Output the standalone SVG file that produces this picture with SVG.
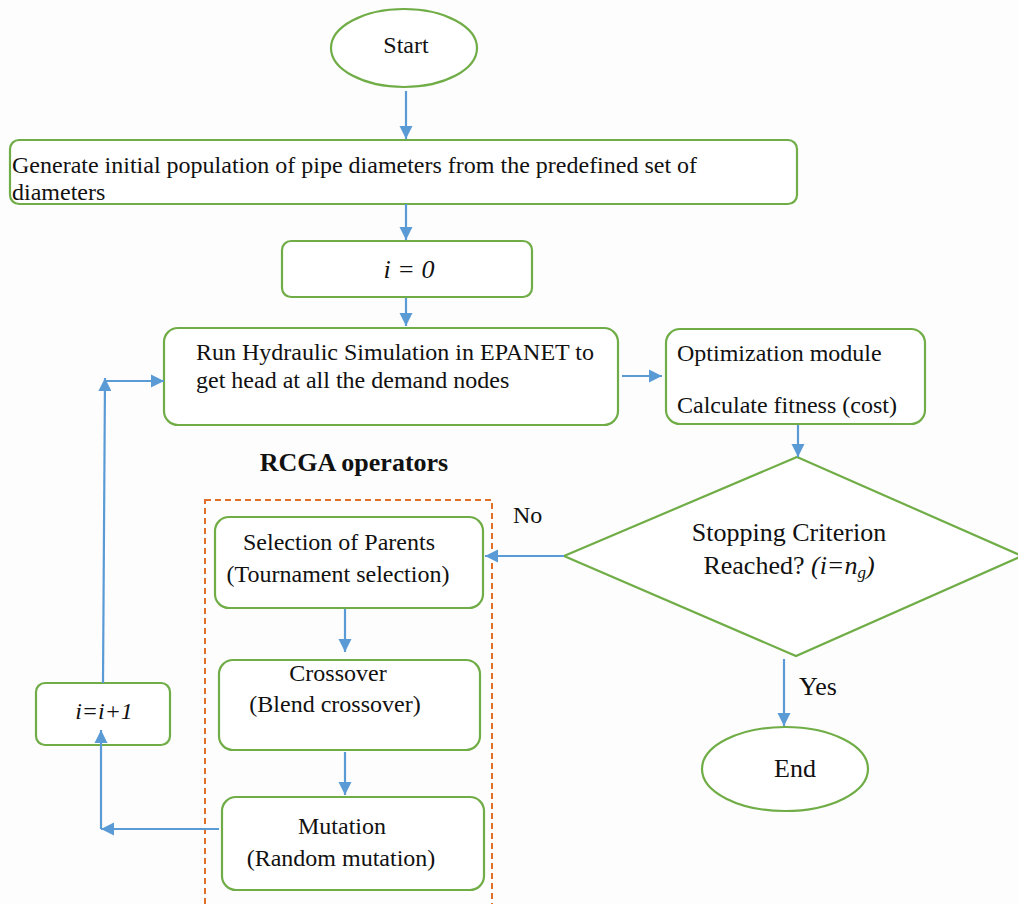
<svg xmlns="http://www.w3.org/2000/svg" width="1018" height="904" viewBox="0 0 1018 904">
<defs>
<style>
.n{fill:#ffffff;stroke:#70ad47;stroke-width:2.2}
.t{font-family:"Liberation Serif","Times New Roman",serif;font-size:24px;fill:#111}
.b{font-size:26px}
.c{text-anchor:middle}
.i{font-style:italic}
.e{stroke:#5b9bd5;stroke-width:2.2;fill:none}
</style>
<marker id="a" viewBox="0 0 10 10" refX="10" refY="5" markerWidth="6" markerHeight="6" markerUnits="strokeWidth" orient="auto">
<path d="M0,0 L10,5 L0,10 z" fill="#5b9bd5"/>
</marker>
</defs>
<rect width="1018" height="904" fill="#fdfdfd"/>
<g id="rcga-frame">
<rect x="205" y="500" width="287" height="410" fill="none" stroke="#e07028" stroke-width="2" stroke-dasharray="6,4"/>
<text class="t b c" x="354" y="471" font-weight="bold">RCGA operators</text>
</g>
<g id="start"><ellipse class="n" cx="404" cy="48" rx="73" ry="39"/><text class="t c" x="406" y="53">Start</text></g>
<g id="generate"><rect class="n" x="10" y="140" width="787" height="64" rx="9"/>
<text class="t" x="12" y="173">Generate initial population of pipe diameters from the predefined set of</text>
<text class="t" x="12" y="200">diameters</text></g>
<g id="init"><rect class="n" x="282" y="241" width="250" height="56" rx="9"/><text class="t b c i" x="409" y="278">i = 0</text></g>
<g id="run"><rect class="n" x="164" y="328" width="454" height="97" rx="14"/>
<text class="t" x="196" y="360">Run Hydraulic Simulation in EPANET to</text>
<text class="t" x="196" y="388">get head at all the demand nodes</text></g>
<g id="opt"><rect class="n" x="666" y="329" width="259" height="95" rx="14"/>
<text class="t" x="677" y="361">Optimization module</text>
<text class="t" x="677" y="413">Calculate fitness (cost)</text></g>
<g id="decision"><polygon class="n" points="797,457 1022,556 796,656 564,556"/>
<text class="t b c" x="789" y="541">Stopping Criterion</text>
<text class="t b c" x="789" y="574">Reached? <tspan class="i">(i=n<tspan font-size="17" dy="4">g</tspan><tspan dy="-4">)</tspan></tspan></text></g>
<g id="selection"><rect class="n" x="215" y="517" width="268" height="91" rx="14"/>
<text class="t c" x="339" y="550">Selection of Parents</text>
<text class="t c" x="338" y="582">(Tournament selection)</text></g>
<g id="crossover"><rect class="n" x="219" y="660" width="261" height="90" rx="14"/>
<text class="t c" x="338" y="681">Crossover</text>
<text class="t c" x="335" y="712">(Blend crossover)</text></g>
<g id="mutation"><rect class="n" x="222" y="797" width="262" height="93" rx="14"/>
<text class="t c" x="342" y="834">Mutation</text>
<text class="t c" x="341" y="866">(Random mutation)</text></g>
<g id="incr"><rect class="n" x="36" y="683" width="134" height="62" rx="9"/><text class="t c i" x="104" y="719" font-size="25">i=i+1</text></g>
<g id="end"><ellipse class="n" cx="785" cy="769" rx="83" ry="42"/><text class="t b c" x="795" y="777">End</text></g>
<g id="connectors">
<line class="e" x1="406" y1="91" x2="406" y2="139" marker-end="url(#a)"/>
<line class="e" x1="406" y1="204" x2="406" y2="240" marker-end="url(#a)"/>
<line class="e" x1="406" y1="298" x2="406" y2="326" marker-end="url(#a)"/>
<line class="e" x1="622" y1="376" x2="662" y2="376" marker-end="url(#a)"/>
<line class="e" x1="798" y1="425" x2="798" y2="457" marker-end="url(#a)" stroke-width="3"/>
<line class="e" x1="564" y1="556" x2="485" y2="556" marker-end="url(#a)"/>
<line class="e" x1="345" y1="609" x2="345" y2="652" marker-end="url(#a)"/>
<line class="e" x1="345" y1="752" x2="345" y2="795" marker-end="url(#a)"/>
<path class="e" d="M219,829 L101,829" marker-end="url(#a)"/>
<line class="e" x1="101" y1="829" x2="101" y2="730" marker-end="url(#a)"/>
<line class="e" x1="103" y1="683" x2="105" y2="378" marker-end="url(#a)"/>
<line class="e" x1="105" y1="381" x2="164" y2="381" marker-end="url(#a)"/>
<line class="e" x1="784" y1="659" x2="784" y2="726" marker-end="url(#a)"/>
<text class="t" x="513" y="523" font-size="25">No</text>
<text class="t b" x="799" y="695">Yes</text>
</g>
</svg>
